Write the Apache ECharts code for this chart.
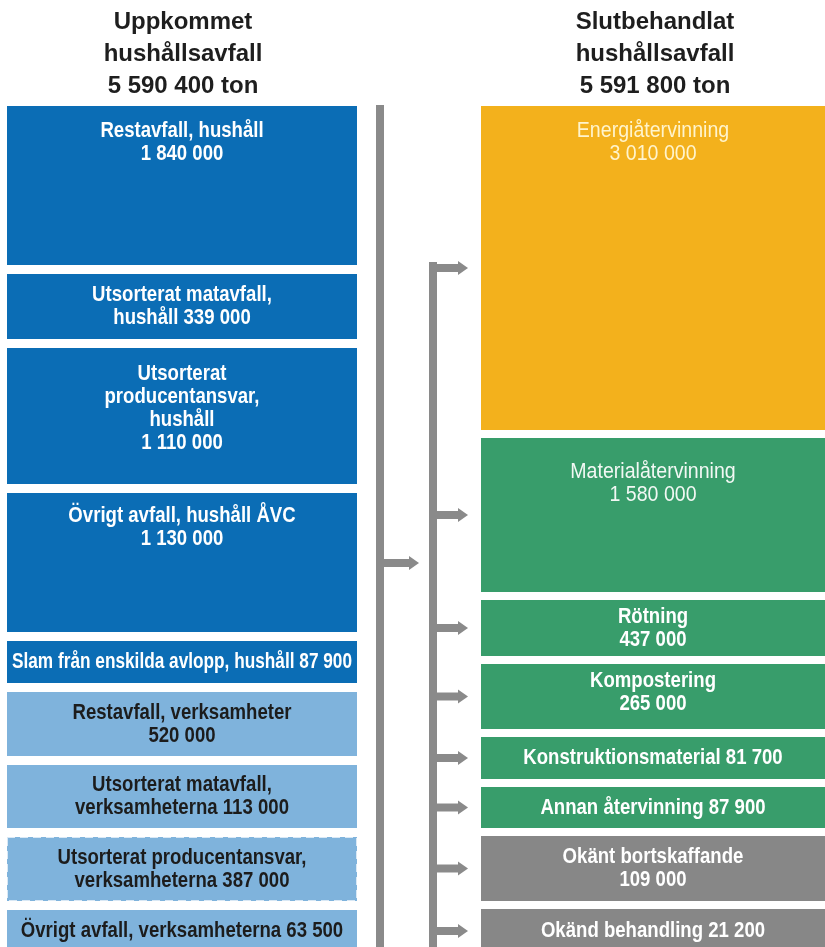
<!DOCTYPE html>
<html>
<head>
<meta charset="utf-8">
<style>
  html, body { margin: 0; padding: 0; background: #fff; }
  #chart { width: 825px; height: 947px; }
</style>
<script src="https://cdn.jsdelivr.net/npm/echarts@6/dist/echarts.min.js"></script>
</head>
<body>
<div id="chart"></div>
<script>
// --- data (ton) ---
const leftNames = [
  "Restavfall, hushåll",
  "Utsorterat matavfall,\nhushåll",
  "Utsorterat\nproducentansvar,\nhushåll",
  "Övrigt avfall, hushåll ÅVC",
  "Slam från enskilda avlopp, hushåll",
  "Restavfall, verksamheter",
  "Utsorterat matavfall,\nverksamheterna",
  "Utsorterat producentansvar,\nverksamheterna",
  "Övrigt avfall, verksamheterna",
];
const leftValues = [1840000, 339000, 1110000, 1130000, 87900, 520000, 113000, 387000, 63500];
const leftValueOnNewLine = [true, false, true, true, false, true, false, false, false];

const rightNames = [
  "Energiåtervinning",
  "Materialåtervinning",
  "Rötning",
  "Kompostering",
  "Konstruktionsmaterial",
  "Annan återvinning",
  "Okänt bortskaffande",
  "Okänd behandling",
];
const rightValues = [3010000, 1580000, 437000, 265000, 81700, 87900, 109000, 21200];
const rightValueOnNewLine = [true, true, true, true, false, false, true, false];

const leftHeading = "Uppkommet\nhushållsavfall";
const rightHeading = "Slutbehandlat\nhushållsavfall";
const unit = "ton";

// --- layout (pixel units on hidden axes) ---
const W = 825, H = 947;
const stackTop = 106;
const leftX = [7, 357];
const rightX = [481, 825];
const leftHeights = [159, 65, 136, 139, 42, 64, 63, 64, 42];
const rightHeights = [324, 154, 56, 65, 42, 41, 65, 44];
const leftGap = 9, rightGap = 8;
// top padding for labels in tall boxes, null = vertically centred
const leftLabelPad = [13, null, 14, 11, null, null, null, null, null];
const rightLabelPad = [13, 22, null, 5, null, null, null, null];

// --- styles ---
const darkBlue = "#0b6db5", lightBlue = "#7fb3dc";
const orange = "#f3b11c", green = "#389d6b", gray = "#878787";
const leftColors = [darkBlue, darkBlue, darkBlue, darkBlue, darkBlue, lightBlue, lightBlue, lightBlue, lightBlue];
const leftTextColors = ["#fff", "#fff", "#fff", "#fff", "#fff", "#1c1c1c", "#1c1c1c", "#1c1c1c", "#1c1c1c"];
const leftDashed = [false, false, false, false, false, false, false, true, false];
const rightColors = [orange, green, green, green, green, green, gray, gray];
const rightTextColors = ["#fff4cc", "#f2f8f4", "#fff", "#fff", "#fff", "#fff", "#fff", "#fff"];
const rightWeights = ["normal", "normal", "bold", "bold", "bold", "bold", "bold", "bold"];
const connectorColor = "#8a8a8a";
const labelFont = "'Liberation Sans', Arial, sans-serif";
const labelSize = 22;
// horizontal squeeze to mimic a condensed face
const narrow = { bold: 0.845, normal: 0.89 };

const fmt = (v) => String(v).replace(/\B(?=(\d{3})+(?!\d))/g, " ");
const sum = (a) => a.reduce((s, v) => s + v, 0);

function tops(heights, gap) {
  const out = [];
  let y = stackTop;
  heights.forEach((h) => { out.push(y); y += h + gap; });
  return out;
}
const leftTops = tops(leftHeights, leftGap);
const rightTops = tops(rightHeights, rightGap);

const measureCtx = document.createElement("canvas").getContext("2d");
function fitScale(text, weight, maxW) {
  measureCtx.font = `${weight} ${labelSize}px ${labelFont}`;
  const s = narrow[weight];
  const w = s * Math.max(...text.split("\n").map((l) => measureCtx.measureText(l).width));
  return w > maxW ? s * maxW / w : s;
}

function boxSeries(name, names, values, newLine, xr, topsArr, heights, pads, colors, textColors, weights, dashed) {
  return {
    name,
    type: "custom",
    coordinateSystem: "cartesian2d",
    data: values.map((v, i) => [i, v]),
    encode: { x: 0, y: -1, tooltip: 1 },
    clip: false,
    renderItem(params, api) {
      const i = params.dataIndex;
      const y0 = topsArr[i], y1 = topsArr[i] + heights[i];
      const p0 = api.coord([xr[0], y0]);
      const p1 = api.coord([xr[1], y1]);
      const text = names[i] + (newLine[i] ? "\n" : " ") + fmt(api.value(1));
      const weight = weights ? weights[i] : "bold";
      const sx = fitScale(text, weight, p1[0] - p0[0] - 10);
      const pad = pads[i];
      return {
        type: "group",
        children: [{
          type: "rect",
          shape: { x: p0[0], y: p0[1], width: p1[0] - p0[0], height: p1[1] - p0[1] },
          style: dashed && dashed[i]
            ? { fill: colors[i], stroke: "rgba(255,255,255,0.7)", lineWidth: 2, lineDash: [8, 5] }
            : { fill: colors[i] },
        }, {
          type: "text",
          x: (p0[0] + p1[0]) / 2,
          y: pad == null ? (p0[1] + p1[1]) / 2 : p0[1] + pad,
          scaleX: sx,
          style: {
            text,
            x: 0,
            y: 0,
            align: "center",
            verticalAlign: pad == null ? "middle" : "top",
            fill: textColors[i],
            fontFamily: labelFont,
            fontSize: labelSize,
            fontWeight: weight,
            lineHeight: 23,
          },
        }],
      };
    },
  };
}

function arrow(api, xFrom, xTip, yc) {
  const a = api.coord([xFrom, yc - 4]);
  const b = api.coord([xTip - 10, yc + 4]);
  const h0 = api.coord([xTip - 10, yc - 7]);
  const h1 = api.coord([xTip, yc]);
  const h2 = api.coord([xTip - 10, yc + 7]);
  return [
    { type: "rect", shape: { x: a[0], y: a[1], width: b[0] - a[0], height: b[1] - a[1] }, style: { fill: connectorColor } },
    { type: "polygon", shape: { points: [h0, h1, h2] }, style: { fill: connectorColor } },
  ];
}

function vbar(api, x0, x1, y0, y1) {
  const a = api.coord([x0, y0]);
  const b = api.coord([x1, y1]);
  return { type: "rect", shape: { x: a[0], y: a[1], width: b[0] - a[0], height: b[1] - a[1] }, style: { fill: connectorColor } };
}

const connectors = {
  name: "connectors",
  type: "custom",
  coordinateSystem: "cartesian2d",
  data: [[0, 0]],
  silent: true,
  clip: false,
  renderItem(params, api) {
    const children = [vbar(api, 376, 384, 105, H), vbar(api, 429, 437, 262, H)];
    children.push(...arrow(api, 384, 419, 563));
    rightTops.forEach((t, i) => {
      children.push(...arrow(api, i === 0 ? 429 : 437, 468, t + rightHeights[i] / 2));
    });
    return { type: "group", children };
  },
};

const headingStyle = {
  fontFamily: "'Liberation Sans', Arial, sans-serif",
  fontWeight: "bold",
  fontSize: 24,
  lineHeight: 32,
  color: "#1e1e1e",
};

const chart = echarts.init(document.getElementById("chart"));
chart.setOption({
  animation: false,
  title: [
    { text: `${leftHeading}\n${fmt(sum(leftValues))} ${unit}`, left: 183, top: 6, padding: 0, textAlign: "center", textStyle: headingStyle },
    { text: `${rightHeading}\n${fmt(sum(rightValues))} ${unit}`, left: 655, top: 6, padding: 0, textAlign: "center", textStyle: headingStyle },
  ],
  grid: { left: 0, top: 0, width: W, height: H },
  xAxis: { type: "value", min: 0, max: W, show: false },
  yAxis: { type: "value", min: 0, max: H, inverse: true, show: false },
  series: [
    connectors,
    boxSeries("Uppkommet", leftNames, leftValues, leftValueOnNewLine, leftX, leftTops, leftHeights,
      leftLabelPad, leftColors, leftTextColors, null, leftDashed),
    boxSeries("Slutbehandlat", rightNames, rightValues, rightValueOnNewLine, rightX, rightTops, rightHeights,
      rightLabelPad, rightColors, rightTextColors, rightWeights, null),
  ],
});
</script>
</body>
</html>
